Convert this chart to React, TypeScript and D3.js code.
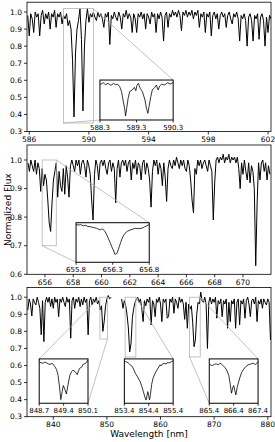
import React from 'react';
import * as d3 from 'd3';

const W = 275;
const H = 442;
const FONT = 'DejaVu Sans, sans-serif';

// Na D region, flux sampled every 0.1 nm from 585.9 nm
const naStart = 585.9;
const naStep = 0.1;
const naFlux = [
  0.98, 0.86, 0.99, 0.96, 0.88, 1.0, 0.97, 0.99, 0.86, 0.98,
  1.01, 0.93, 0.99, 0.96, 1.0, 0.9, 0.99, 0.97, 1.01, 0.91,
  0.99, 0.97, 1.0, 0.93, 0.98, 0.96, 0.99, 0.92, 0.95, 0.9,
  0.72, 0.385, 0.76, 0.9, 0.95, 1.02, 0.84, 0.42, 0.8, 0.95,
  1.02, 0.94, 0.99, 0.97, 1.0, 0.97, 0.95, 1.0, 0.97, 0.99,
  0.96, 0.91, 0.99, 0.97, 1.0, 0.81, 0.98, 0.96, 1.0, 0.97,
  0.95, 1.0, 0.97, 0.9, 0.99, 0.97, 1.01, 0.96, 0.99, 0.97,
  0.88, 0.99, 0.96, 0.88, 0.99, 0.97, 1.0, 0.96, 0.99, 0.9,
  0.99, 0.97, 0.93, 1.0, 0.97, 0.99, 0.88, 0.99, 0.96, 1.0,
  0.97, 0.83, 0.98, 1.0, 0.91, 0.99, 0.97, 1.01, 0.98, 1.0,
  0.97, 1.01, 0.98, 0.89, 1.0, 0.98, 1.01, 0.97, 1.0, 0.98,
  1.01, 0.96, 1.0, 0.98, 1.01, 0.91, 0.99, 0.97, 1.0, 0.88,
  0.99, 0.97, 1.0, 0.86, 0.98, 1.0, 0.96, 0.99, 0.9, 0.98,
  1.0, 0.97, 0.99, 0.91, 0.98, 1.0, 0.96, 0.93, 0.99, 0.97,
  1.0, 0.96, 0.83, 0.98, 0.96, 0.99, 0.95, 0.8, 0.97, 0.99,
  0.95, 0.83, 0.98, 0.96, 0.99, 0.84, 0.97, 0.99, 0.95, 0.8,
  0.97, 0.88, 0.98, 0.96,
];

// H-alpha region, every 0.1 nm from 654.8 nm
const haStart = 654.8;
const haStep = 0.1;
const haFlux = [
  0.99, 0.96, 1.0, 0.98, 0.96, 1.0, 0.95, 0.99, 0.97, 0.89,
  0.97, 0.91, 0.95, 0.93, 0.86, 0.78, 0.75, 0.85, 0.93, 0.96,
  0.99, 0.87, 0.96, 0.91, 0.89, 0.97, 0.88, 0.98, 0.94, 0.87,
  0.98, 1.0, 0.98, 0.96, 1.0, 0.98, 1.0, 0.95, 0.99, 1.0,
  0.98, 0.94, 1.0, 0.98, 0.95, 0.86, 0.79, 0.95, 1.0, 0.98,
  0.93, 0.99, 1.0, 0.98, 1.0, 0.97, 0.95, 0.99, 1.0, 0.96,
  0.99, 0.97, 0.85, 0.97, 1.0, 0.94, 0.99, 1.0, 0.98, 1.0,
  0.96, 0.99, 1.0, 0.93, 0.99, 0.97, 1.0, 0.95, 0.99, 0.98,
  0.93, 0.99, 1.0, 0.95, 0.99, 0.97, 0.93, 0.835, 0.96, 1.0,
  0.98, 1.0, 0.95, 0.99, 0.97, 0.91, 0.99, 0.94, 0.855, 0.97,
  1.0, 0.98, 0.97, 1.0, 0.98, 1.01, 0.99, 0.97, 1.0, 0.98,
  1.0, 0.97, 0.96, 1.0, 0.98, 0.93, 0.86, 0.815, 0.97, 0.95,
  1.0, 0.98, 1.0, 0.97, 0.99, 1.0, 0.98, 0.96, 1.0, 0.98,
  0.96, 0.79, 0.92, 1.0, 1.01, 0.99, 1.01, 1.0, 1.02, 0.99,
  1.01, 1.0, 1.02, 0.99, 1.01, 1.0, 1.01, 0.99, 1.01, 0.97,
  0.9, 0.99, 0.95, 1.0, 0.96, 0.93, 0.99, 0.92, 0.98, 0.96,
  0.9, 0.63, 0.85, 0.99, 0.93, 0.99, 1.0, 0.96, 0.99, 0.93,
  0.98, 0.95,
];

// Ca II triplet region, every 0.25 nm from 835.25 nm (null = detector gap)
const caStart = 835.25;
const caStep = 0.25;
const caFlux = [
  0.925, 0.99, 0.96, 0.89, 0.99, 0.97, 0.955, 1.0,
  0.97, 0.935, 0.78, 0.98, 0.74, 0.97, 1.0, 0.97,
  1.0, 0.945, 0.99, 0.935, 1.0, 0.97, 0.99, 0.886,
  0.99, 0.97, 1.0, 0.97, 0.945, 1.0, 0.97, 0.99,
  0.76, 0.98, 1.0, 0.935, 0.99, 0.97, 1.0, 0.945,
  0.99, 0.955, 1.0, 0.97, 0.99, 0.78, 0.98, 1.0,
  0.955, 0.99, 0.97, 1.0, 0.96, 0.98, 0.925, 0.95,
  0.8, 0.86, 0.95, 0.99, 1.01, 0.99, 1.0, null,
  null, null, null, null, null, null, 0.99, 0.935,
  0.98, 0.95, 0.9, 0.82, 0.68, 0.73, 0.88, 0.935,
  0.97, 0.99, 1.0, 0.97, 0.99, 0.935, 0.857, 0.98,
  0.95, 0.99, 0.97, 1.0, 0.838, 0.98, 0.96, 0.886,
  0.99, 0.97, 1.0, 0.96, 0.857, 0.99, 0.97, 0.99,
  0.877, 0.886, 0.99, 0.97, 1.0, 0.906, 0.99, 0.97,
  0.935, 1.0, 0.97, 0.99, 0.96, 0.87, 0.97, 0.818,
  0.96, 0.93, 0.95, 0.85, 0.71, 0.75, 0.9, 0.97,
  0.96, 1.03, 0.98, 0.97, 1.0, 0.96, 0.7, 0.97,
  1.0, 0.96, 0.99, 0.97, 1.0, 0.877, 0.98, 0.96,
  0.99, 0.886, 0.98, 0.96, 0.99, 0.818, 0.97, 0.857,
  0.98, 0.96, 0.99, 0.818, 0.97, 0.99, 0.838, 0.98,
  0.96, 0.99, 0.877, 0.98, 1.0, 0.96, 0.886, 0.98,
  0.99, 0.96, 1.0, 0.857, 0.98, 0.96, 0.99, 0.935,
  0.99, 0.97, 0.955, 0.99, 0.97, 0.75,
];

// zoomed views: [wavelength nm, flux]
const naZoom = [
  [588.3, 0.95], [588.33, 0.953], [588.39, 0.975], [588.45, 0.942], [588.52, 0.964],
  [588.6, 0.931], [588.67, 0.964], [588.73, 0.942], [588.78, 0.953], [588.84, 0.908],
  [588.89, 0.825], [588.93, 0.685], [588.98, 0.518], [589.0, 0.417], [589.03, 0.545],
  [589.07, 0.713], [589.11, 0.825], [589.18, 0.853], [589.24, 0.897], [589.28, 0.841],
  [589.31, 0.931], [589.35, 0.964], [589.4, 0.88], [589.46, 0.825], [589.53, 0.685],
  [589.57, 0.545], [589.61, 0.462], [589.64, 0.573], [589.69, 0.741], [589.73, 0.853],
  [589.8, 0.897], [589.84, 0.936], [589.89, 0.853], [589.93, 0.92], [589.99, 0.953],
  [590.06, 0.936], [590.15, 0.975], [590.22, 0.953], [590.3, 0.98],
];
const haZoom = [
  [655.8, 0.988], [655.83, 0.982], [655.86, 0.986], [655.9, 0.977], [655.93, 0.98],
  [655.96, 0.972], [655.99, 0.97], [656.02, 0.966], [656.05, 0.962], [656.08, 0.958],
  [656.11, 0.95], [656.13, 0.945], [656.15, 0.952], [656.17, 0.95], [656.2, 0.93],
  [656.22, 0.907], [656.25, 0.87], [656.27, 0.844], [656.29, 0.815], [656.31, 0.793],
  [656.33, 0.76], [656.35, 0.765], [656.36, 0.768], [656.38, 0.8], [656.39, 0.818],
  [656.41, 0.85], [656.43, 0.882], [656.45, 0.905], [656.47, 0.92], [656.5, 0.935],
  [656.54, 0.945], [656.58, 0.952], [656.61, 0.958], [656.65, 0.955], [656.7, 0.958],
  [656.74, 0.97], [656.77, 0.977], [656.8, 0.988],
];
const ca1Zoom = [
  [848.7, 0.985], [848.76, 0.978], [848.81, 0.976], [848.86, 0.982], [848.9, 0.98],
  [848.96, 0.972], [849.01, 0.97], [849.08, 0.975], [849.15, 0.957], [849.2, 0.94],
  [849.24, 0.91], [849.28, 0.85], [849.32, 0.775], [849.36, 0.82], [849.39, 0.853],
  [849.44, 0.83], [849.48, 0.806], [849.53, 0.86], [849.58, 0.91], [849.63, 0.93],
  [849.67, 0.938], [849.73, 0.93], [849.79, 0.913], [849.83, 0.935], [849.86, 0.948],
  [849.92, 0.955], [849.96, 0.97], [850.03, 0.975], [850.1, 0.994],
];
const ca2Zoom = [
  [853.4, 0.985], [853.44, 0.979], [853.5, 0.975], [853.55, 0.97], [853.6, 0.962],
  [853.64, 0.953], [853.7, 0.945], [853.75, 0.93], [853.8, 0.91], [853.85, 0.887],
  [853.95, 0.855], [854.05, 0.82], [854.12, 0.78], [854.18, 0.742], [854.24, 0.7],
  [854.29, 0.676], [854.33, 0.71], [854.36, 0.742], [854.4, 0.71], [854.43, 0.676],
  [854.47, 0.72], [854.52, 0.8], [854.58, 0.85], [854.66, 0.887], [854.76, 0.92],
  [854.86, 0.953], [854.91, 0.945], [854.96, 0.96], [855.06, 0.965], [855.11, 0.958],
  [855.16, 0.97], [855.26, 0.97], [855.32, 0.978], [855.4, 0.985],
];
const ca3Zoom = [
  [865.4, 0.96], [865.43, 0.955], [865.5, 0.948], [865.55, 0.95], [865.62, 0.958],
  [865.7, 0.96], [865.77, 0.952], [865.84, 0.966], [865.9, 0.958], [865.98, 0.945],
  [866.05, 0.93], [866.11, 0.913], [866.2, 0.87], [866.26, 0.8], [866.31, 0.729],
  [866.36, 0.77], [866.4, 0.79], [866.45, 0.75], [866.49, 0.716], [866.55, 0.78],
  [866.65, 0.85], [866.72, 0.89], [866.79, 0.913], [866.9, 0.94], [866.99, 0.953],
  [867.1, 0.96], [867.2, 0.966], [867.3, 0.955], [867.35, 0.965], [867.4, 0.98],
];

const naTicks = [586, 590, 594, 598, 602];
const haTicks = [656, 658, 660, 662, 664, 666, 668, 670];
const caTicks = [840, 850, 860, 870, 880];
const wideFluxTicks = [0.3, 0.4, 0.5, 0.6, 0.7, 0.8, 0.9, 1.0];
const haFluxTicks = [0.6, 0.7, 0.8, 0.9, 1.0];

const toPairs = (start: number, step: number, flux: (number | null)[]) =>
  flux.map((f, i) => [start + i * step, f] as [number, number | null]);

type Inset = {
  data: number[][];
  xlim: [number, number];
  ylim: [number, number];
  ticks: number[];
  box: [number, number, number, number]; // left, bottom, width, height (axes fraction)
  locs: [number, number];
};

const left = 27;
const right = 271;
const panelH = 129.3;

const panels = [
  {
    top: 2.2, xlim: [585.85, 602.2], ylim: [0.3, 1.0575], xTicks: naTicks, yTicks: wideFluxTicks,
    data: toPairs(naStart, naStep, naFlux),
    insets: [
      { data: naZoom, xlim: [588.3, 590.3], ylim: [0.35, 1.02], ticks: [588.3, 589.3, 590.3], box: [0.299, 0.089, 0.3, 0.309], locs: [1, 3] },
    ] as Inset[],
  },
  {
    top: 145, xlim: [654.73, 671.98], ylim: [0.6, 1.0525], xTicks: haTicks, yTicks: haFluxTicks,
    data: toPairs(haStart, haStep, haFlux),
    insets: [
      { data: haZoom, xlim: [655.8, 656.8], ylim: [0.7, 1.0], ticks: [655.8, 656.3, 656.8], box: [0.201, 0.093, 0.3, 0.306], locs: [1, 3] },
    ] as Inset[],
  },
  {
    top: 287.4, xlim: [835.1, 880.6], ylim: [0.3, 1.0575], xTicks: caTicks, yTicks: wideFluxTicks,
    data: toPairs(caStart, caStep, caFlux),
    insets: [
      { data: ca1Zoom, xlim: [848.7, 850.1], ylim: [0.755, 1.0], ticks: [848.7, 849.4, 850.1], box: [0.05, 0.104, 0.2, 0.343], locs: [2, 4] },
      { data: ca2Zoom, xlim: [853.4, 855.4], ylim: [0.65, 1.0], ticks: [853.4, 854.4, 855.4], box: [0.399, 0.104, 0.2, 0.343], locs: [1, 3] },
      { data: ca3Zoom, xlim: [865.4, 867.4], ylim: [0.65, 1.0], ticks: [865.4, 866.4, 867.4], box: [0.747, 0.104, 0.2, 0.343], locs: [1, 3] },
    ] as Inset[],
  },
];

// corner of a box: 1 upper right, 2 upper left, 3 lower left, 4 lower right
function corner(loc: number, x0: number, x1: number, yTop: number, yBot: number) {
  const x = loc === 2 || loc === 3 ? x0 : x1;
  const y = loc === 1 || loc === 2 ? yTop : yBot;
  return [x, y];
}

function Panel({ p, idx }: { p: typeof panels[number]; idx: number }) {
  const bottom = p.top + panelH;
  const x = d3.scaleLinear().domain(p.xlim).range([left, right]);
  const y = d3.scaleLinear().domain(p.ylim).range([bottom, p.top]);
  const line = d3.line<[number, number | null]>()
    .defined((d) => d[1] != null)
    .x((d) => x(d[0]))
    .y((d) => y(d[1] as number));
  const clipId = `clip-main-${idx}`;
  const fmtY = d3.format('.1f');
  return (
    <g>
      <defs>
        <clipPath id={clipId}>
          <rect x={left} y={p.top} width={right - left} height={panelH} />
        </clipPath>
      </defs>
      <path d={line(p.data) || ''} fill="none" stroke="#000" strokeWidth={1} clipPath={`url(#${clipId})`} strokeLinejoin="round" />
      {p.insets.map((ins, k) => {
        const ix0 = left + ins.box[0] * (right - left);
        const ix1 = ix0 + ins.box[2] * (right - left);
        const iyBot = bottom - ins.box[1] * panelH;
        const iyTop = iyBot - ins.box[3] * panelH;
        const rx0 = x(ins.xlim[0]);
        const rx1 = x(ins.xlim[1]);
        const ryTop = y(ins.ylim[1]);
        const ryBot = y(ins.ylim[0]);
        const sx = d3.scaleLinear().domain(ins.xlim).range([ix0, ix1]);
        const sy = d3.scaleLinear().domain(ins.ylim).range([iyBot, iyTop]);
        const zl = d3.line<number[]>().x((d) => sx(d[0])).y((d) => sy(d[1]));
        const cid = `clip-inset-${idx}-${k}`;
        return (
          <g key={k}>
            <rect x={rx0} y={ryTop} width={rx1 - rx0} height={ryBot - ryTop} fill="none" stroke="#b3b3b3" strokeWidth={0.8} />
            {ins.locs.map((loc) => {
              const a = corner(loc, rx0, rx1, ryTop, ryBot);
              const b = corner(loc, ix0, ix1, iyTop, iyBot);
              return <line key={loc} x1={a[0]} y1={a[1]} x2={b[0]} y2={b[1]} stroke="#b3b3b3" strokeWidth={0.8} />;
            })}
            <defs>
              <clipPath id={cid}>
                <rect x={ix0} y={iyTop} width={ix1 - ix0} height={iyBot - iyTop} />
              </clipPath>
            </defs>
            <rect x={ix0} y={iyTop} width={ix1 - ix0} height={iyBot - iyTop} fill="#fff" />
            <path d={zl(ins.data) || ''} fill="none" stroke="#000" strokeWidth={0.8} clipPath={`url(#${cid})`} />
            <rect x={ix0} y={iyTop} width={ix1 - ix0} height={iyBot - iyTop} fill="none" stroke="#000" strokeWidth={1} />
            {ins.ticks.map((t) => (
              <g key={t}>
                <line x1={sx(t)} x2={sx(t)} y1={iyBot} y2={iyBot + 2.5} stroke="#000" strokeWidth={0.8} />
                <text x={sx(t)} y={iyBot + 9.8} fontSize={7} fontFamily={FONT} textAnchor="middle" fill="#000">
                  {t.toFixed(1)}
                </text>
              </g>
            ))}
          </g>
        );
      })}
      <rect x={left} y={p.top} width={right - left} height={panelH} fill="none" stroke="#000" strokeWidth={0.8} />
      {p.xTicks.map((t) => (
        <g key={t}>
          <line x1={x(t)} x2={x(t)} y1={bottom} y2={bottom + 3} stroke="#000" strokeWidth={0.8} />
          <text x={x(t)} y={bottom + 10.5} fontSize={7.5} fontFamily={FONT} textAnchor="middle" fill="#000">
            {t}
          </text>
        </g>
      ))}
      {p.yTicks.map((t) => (
        <g key={t}>
          <line x1={left - 3} x2={left} y1={y(t)} y2={y(t)} stroke="#000" strokeWidth={0.8} />
          <text x={left - 5} y={y(t) + 2.7} fontSize={7.5} fontFamily={FONT} textAnchor="end" fill="#000">
            {fmtY(t)}
          </text>
        </g>
      ))}
    </g>
  );
}

export default function App() {
  return (
    <svg width={W} height={H} viewBox={`0 0 ${W} ${H}`} style={{ position: 'absolute', left: 0, top: 0, background: '#fff' }}>
      <rect width={W} height={H} fill="#fff" />
      {panels.map((p, i) => (
        <Panel key={i} p={p} idx={i} />
      ))}
      <text transform={`translate(10.5, ${panels[1].top + panelH / 2}) rotate(-90)`} fontSize={9} fontFamily={FONT} textAnchor="middle" fill="#000">
        Normalized Flux
      </text>
      <text x={(left + right) / 2} y={437} fontSize={9} fontFamily={FONT} textAnchor="middle" fill="#000">
        Wavelength [nm]
      </text>
    </svg>
  );
}
